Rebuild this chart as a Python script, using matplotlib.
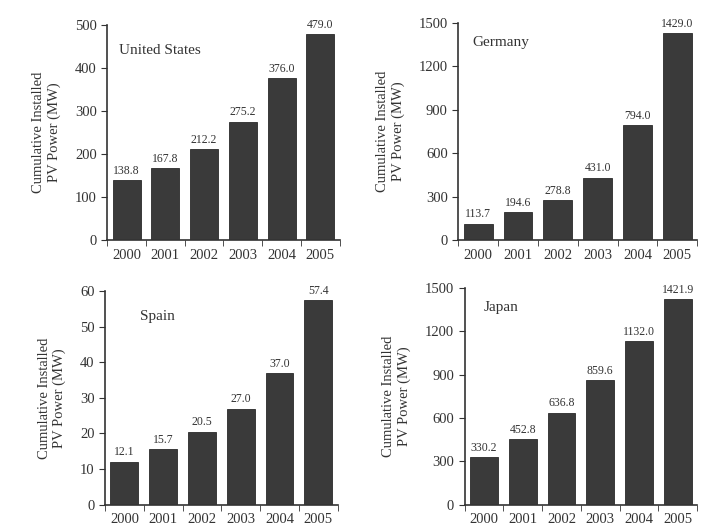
import numpy as np
import matplotlib.pyplot as plt

years = ['2000', '2001', '2002', '2003', '2004', '2005']
us = [138.8, 167.8, 212.2, 275.2, 376.0, 479.0]
germany = [113.7, 194.6, 278.8, 431.0, 794.0, 1429.0]
spain = [12.1, 15.7, 20.5, 27.0, 37.0, 57.4]
japan = [330.2, 452.8, 636.8, 859.6, 1132.0, 1421.9]

plt.rcParams['font.family'] = ['Liberation Serif', 'DejaVu Serif']
ink = '#333333'

fig = plt.figure(figsize=(7.05, 5.28), dpi=100)

# name, values, yticks, axes rect, label position (axes fraction)
panels = [
    ('United States', us, [0, 100, 200, 300, 400, 500], [0.152, 0.545, 0.330, 0.408], (0.05, 0.88)),
    ('Germany', germany, [0, 300, 600, 900, 1200, 1500], [0.650, 0.545, 0.339, 0.412], (0.06, 0.91)),
    ('Spain', spain, [0, 10, 20, 30, 40, 50, 60], [0.149, 0.044, 0.330, 0.405], (0.15, 0.88)),
    ('Japan', japan, [0, 300, 600, 900, 1200, 1500], [0.659, 0.044, 0.330, 0.411], (0.08, 0.91)),
]

for name, vals, yt, rect, lpos in panels:
    ax = fig.add_axes(rect)
    x = np.arange(len(years))
    ax.bar(x, vals, width=0.72, color='#3a3a3a', edgecolor='#2a2a2a', linewidth=0.6)
    for xi, v in zip(x, vals):
        ax.text(xi, v + yt[-1] * 0.015, f'{v:.1f}', ha='center', va='bottom',
                fontsize=8.5, color=ink)
    ax.set_xlim(-0.5, 5.5)
    ax.set_ylim(0, yt[-1])
    ax.set_yticks(yt)
    ax.set_xticks(x)
    ax.set_xticklabels(years)
    ax.set_xticks(np.arange(-0.5, 6, 1), minor=True)
    ax.tick_params(axis='x', which='major', length=0, labelsize=10.5, colors=ink, pad=6)
    ax.tick_params(axis='x', which='minor', length=4, direction='out', color=ink)
    ax.tick_params(axis='y', length=4, direction='out', labelsize=10.5, colors=ink)
    for s in ['top', 'right']:
        ax.spines[s].set_visible(False)
    for s in ['left', 'bottom']:
        ax.spines[s].set_color(ink)
        ax.spines[s].set_linewidth(1.2)
    ax.set_ylabel('Cumulative Installed\nPV Power (MW)', fontsize=10.5, color=ink, labelpad=10)
    ax.text(lpos[0], lpos[1], name, transform=ax.transAxes, fontsize=11,
            color=ink, ha='left', va='center')

plt.savefig('out.png', dpi=100)
